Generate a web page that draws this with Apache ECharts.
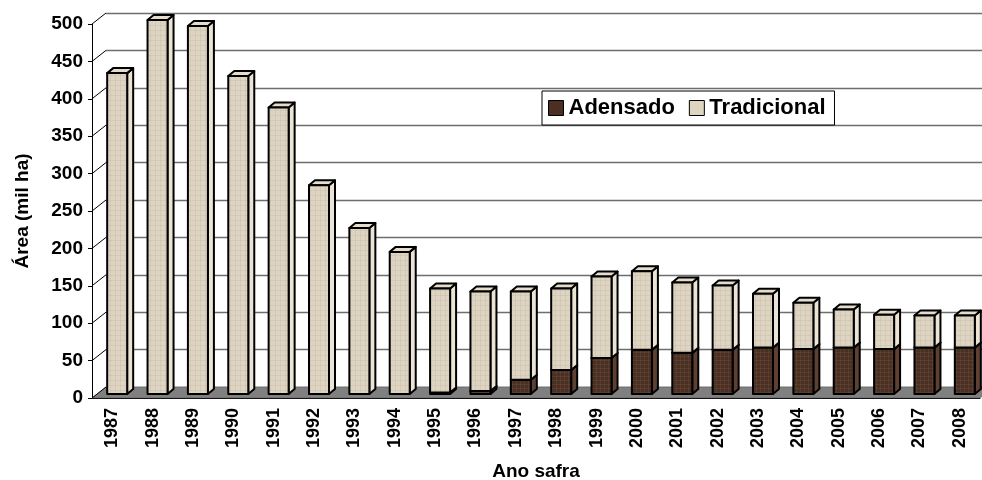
<!DOCTYPE html>
<html lang="pt">
<head>
    <meta charset="UTF-8">
    <title>Área de café adensado e tradicional</title>
    <style>
        html, body { margin: 0; padding: 0; background: #fff; }
        #chartmain { width: 982px; height: 480px; }
    </style>
</head>
<body>
    <div id="chartmain"></div>
    <script src="https://cdn.jsdelivr.net/npm/echarts@6/dist/echarts.min.js"></script>
    <script type="text/javascript">
        var years = ['1987', '1988', '1989', '1990', '1991', '1992', '1993', '1994', '1995', '1996', '1997',
            '1998', '1999', '2000', '2001', '2002', '2003', '2004', '2005', '2006', '2007', '2008'];
        var adensado = [0, 0, 0, 0, 0, 0, 0, 0, 2, 4, 19, 32, 48, 59, 55, 59, 62, 60, 62, 60, 62, 62];
        var tradicional = [429, 500, 492, 425, 383, 279, 222, 190, 139, 133, 118, 109, 109, 105, 94, 86, 72, 62, 51, 46, 43, 43];
        var yTicks = [0, 50, 100, 150, 200, 250, 300, 350, 400, 450, 500];

        var FONT = '"Liberation Sans", Arial, sans-serif';
        // profundidade do "3D": parede do fundo deslocada 14px p/ direita e 11px p/ cima
        var WALL_DX = 14, WALL_DY = -11;
        var BAR_DX = 5, BAR_DY = -4;   // face da frente da barra ~1/3 da profundidade
        var SIDE_DX = 6, SIDE_DY = -5; // espessura da barra
        var HALF = 10;

        // textura bem leve tipo tecido
        function makePattern(base, line, step) {
            var c = document.createElement('canvas');
            c.width = step; c.height = step;
            var ctx = c.getContext('2d');
            ctx.fillStyle = base;
            ctx.fillRect(0, 0, step, step);
            ctx.fillStyle = line;
            ctx.fillRect(0, 0, step, 1);
            ctx.fillRect(0, 0, 1, step);
            return { image: c, repeat: 'repeat' };
        }
        var tradFront = makePattern('#ddd4c2', 'rgba(170,150,120,0.15)', 5);
        var adenFront = makePattern('#4a3023', 'rgba(120,90,70,0.3)', 4);

        var adensadoData = [], tradicionalData = [];
        for (var i = 0; i < years.length; i++) {
            adensadoData.push([i, 0, adensado[i]]);
            tradicionalData.push([i, adensado[i], adensado[i] + tradicional[i]]);
        }

        var barRender = function (front, side, top) {
            return function (params, api) {
                var idx = api.value(0), base = api.value(1), val = api.value(2);
                if (val - base <= 0) return null;
                var p0 = api.coord([idx, base]);
                var p1 = api.coord([idx, val]);
                var xl = p0[0] + BAR_DX - HALF, xr = p0[0] + BAR_DX + HALF;
                var yb = p0[1] + BAR_DY, yt = p1[1] + BAR_DY;
                var stroke = { stroke: '#000', lineWidth: 2, lineJoin: 'round' };
                return {
                    type: 'group',
                    children: [{
                        type: 'polygon',
                        shape: { points: [[xr, yt], [xr + SIDE_DX, yt + SIDE_DY], [xr + SIDE_DX, yb + SIDE_DY], [xr, yb]] },
                        style: Object.assign({ fill: side }, stroke)
                    }, {
                        type: 'polygon',
                        shape: { points: [[xl, yt], [xl + SIDE_DX, yt + SIDE_DY], [xr + SIDE_DX, yt + SIDE_DY], [xr, yt]] },
                        style: Object.assign({ fill: top }, stroke)
                    }, {
                        type: 'rect',
                        shape: { x: xl, y: yt, width: xr - xl, height: yb - yt },
                        style: Object.assign({ fill: front }, stroke)
                    }]
                };
            };
        };

        var mychart = echarts.init(document.getElementById('chartmain'));
        var option = {
            animation: false,
            backgroundColor: '#fff',
            textStyle: { fontFamily: FONT },
            legend: {
                left: 542,
                top: 91,
                padding: [6, 9, 6, 6],
                itemGap: 14,
                itemWidth: 15,
                itemHeight: 15,
                borderColor: '#000',
                borderWidth: 1,
                backgroundColor: '#fff',
                textStyle: { fontFamily: FONT, fontSize: 22, fontWeight: 'bold', color: '#000' },
                data: [
                    { name: 'Adensado', icon: 'rect', itemStyle: { color: '#4a3023', borderColor: '#000', borderWidth: 1 } },
                    { name: 'Tradicional', icon: 'rect', itemStyle: { color: '#ddd4c2', borderColor: '#000', borderWidth: 1 } }
                ]
            },
            grid: [{
                left: 92, right: 2, top: 24, bottom: 82,
                containLabel: false, outerBoundsMode: 'none'
            }, {
                // parede do fundo (linhas de grade)
                left: 92 + WALL_DX, right: 2 - WALL_DX, top: 24 + WALL_DY, bottom: 82 - WALL_DY,
                containLabel: false, outerBoundsMode: 'none'
            }],
            xAxis: [{
                type: 'category',
                gridIndex: 0,
                data: years,
                name: 'Ano safra',
                nameLocation: 'middle',
                nameGap: 64,
                nameTextStyle: { fontFamily: FONT, fontSize: 19, fontWeight: 'bold', color: '#000' },
                axisLine: { lineStyle: { color: '#000', width: 1 } },
                axisTick: { length: 7, lineStyle: { color: '#000' } },
                axisLabel: { rotate: 90, margin: 10, fontFamily: FONT, fontSize: 18, fontWeight: 'bold', color: '#000' }
            }, {
                type: 'category',
                gridIndex: 1,
                data: years,
                show: false
            }],
            yAxis: [{
                type: 'value',
                gridIndex: 0,
                min: 0,
                max: 500,
                interval: 50,
                name: 'Área (mil ha)',
                nameLocation: 'middle',
                nameGap: 60,
                nameTextStyle: { fontFamily: FONT, fontSize: 19, fontWeight: 'bold', color: '#000' },
                axisLine: { show: true, lineStyle: { color: '#000', width: 1 } },
                axisTick: { show: true, length: 4, lineStyle: { color: '#000' } },
                axisLabel: { margin: 9, fontFamily: FONT, fontSize: 19, fontWeight: 'bold', color: '#000' },
                splitLine: { show: false }
            }, {
                type: 'value',
                gridIndex: 1,
                min: 0,
                max: 500,
                interval: 50,
                axisLine: { show: false },
                axisTick: { show: false },
                axisLabel: { show: false },
                splitLine: { show: true, lineStyle: { color: '#6e6e6e', width: 1.3 } }
            }],
            series: [{
                // piso cinza
                type: 'custom',
                name: 'piso',
                xAxisIndex: 0,
                yAxisIndex: 0,
                silent: true,
                z: 1,
                data: [[0, 0]],
                renderItem: function (params, api) {
                    var band = api.size([1, 0])[0];
                    var a = api.coord([0, 0]);
                    var b = api.coord([years.length - 1, 0]);
                    var x0 = a[0] - band / 2, x1 = b[0] + band / 2, y = a[1];
                    return {
                        type: 'polygon',
                        shape: { points: [[x0, y], [x1, y], [x1 + WALL_DX, y + WALL_DY], [x0 + WALL_DX, y + WALL_DY]] },
                        style: { fill: '#808080', stroke: '#555', lineWidth: 0.5 }
                    };
                }
            }, {
                // ligações diagonais entre eixo da frente e a parede
                type: 'custom',
                name: 'ligacoes',
                xAxisIndex: 0,
                yAxisIndex: 0,
                silent: true,
                z: 1,
                data: yTicks.map(function (v) { return [0, v]; }),
                renderItem: function (params, api) {
                    var band = api.size([1, 0])[0];
                    var p = api.coord([0, api.value(1)]);
                    var x0 = p[0] - band / 2;
                    return {
                        type: 'line',
                        shape: { x1: x0, y1: p[1], x2: x0 + WALL_DX, y2: p[1] + WALL_DY },
                        style: { stroke: '#000', lineWidth: 1 }
                    };
                }
            }, {
                type: 'custom',
                name: 'Adensado',
                xAxisIndex: 0,
                yAxisIndex: 0,
                z: 3,
                encode: { x: 0, y: [1, 2] },
                data: adensadoData,
                renderItem: barRender(adenFront, '#5d4031', '#5a3c2c')
            }, {
                type: 'custom',
                name: 'Tradicional',
                xAxisIndex: 0,
                yAxisIndex: 0,
                z: 4,
                encode: { x: 0, y: [1, 2] },
                data: tradicionalData,
                renderItem: barRender(tradFront, '#ebe3d3', '#e5dccb')
            }]
        };
        mychart.setOption(option, true);
    </script>
</body>
</html>
